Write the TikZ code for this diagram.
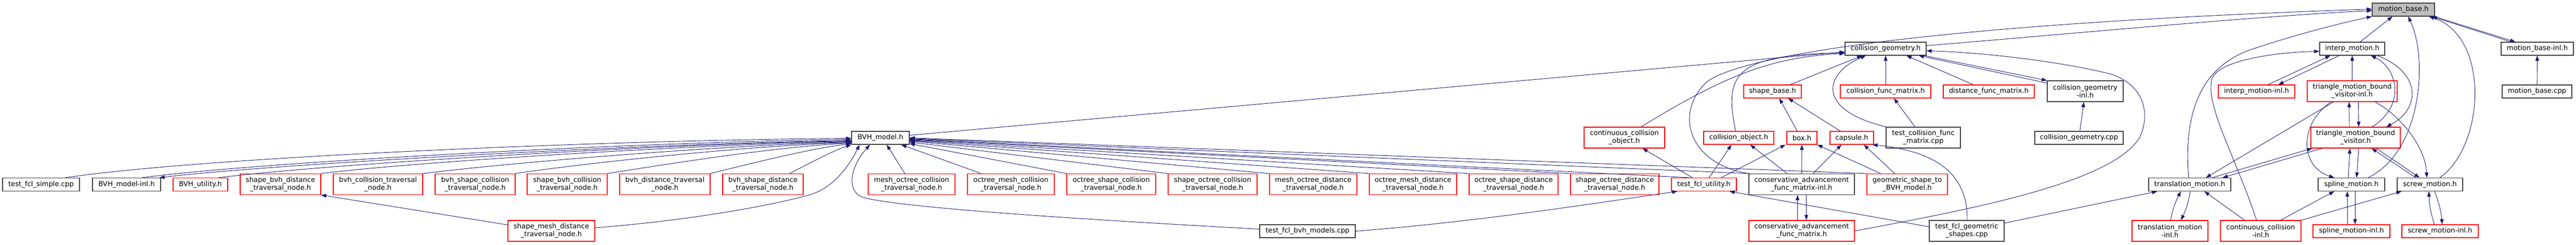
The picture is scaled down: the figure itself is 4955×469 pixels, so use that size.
\documentclass[tikz,border=0pt]{standalone}
\usepackage{fontspec}
\setmainfont{DejaVu Sans}
\usetikzlibrary{arrows.meta}
\definecolor{edgeblue}{HTML}{191970}
\definecolor{boxred}{HTML}{FF0000}
\definecolor{boxgray}{HTML}{BFBFBF}
\definecolor{boxblack}{HTML}{404040}
\begin{document}
\begin{tikzpicture}[x=1pt,y=-1pt,
    every node/.append style={inner sep=0pt},
    file/.style={draw=boxblack, line width=1.2pt, fill=white, align=center,
      font=\fontsize{13.2}{15}\selectfont, minimum height=25pt},
    tall/.style={minimum height=40pt},
    redfile/.style={file, draw=boxred},
    inc/.style={draw=edgeblue, line width=0.9pt, -{Triangle[length=10pt,width=7pt]}}]
  \path[use as bounding box, fill=white] (0,0) rectangle (4955,469);
  % row 0 and 1
  \node[file, fill=boxgray, minimum width=120pt] (mb) at (4623,18.5) {motion\_base.h};
  \node[file, minimum width=156pt] (cg) at (3627,93.5) {collision\_geometry.h};
  \node[file, minimum width=125pt] (im) at (4524.5,93.5) {interp\_motion.h};
  \node[file, minimum width=139pt] (mbi) at (4880.5,93.5) {motion\_base-inl.h};
  % row 2
  \node[redfile, minimum width=111pt] (sb) at (3409.5,175.5) {shape\_base.h};
  \node[redfile, minimum width=174pt] (cfm) at (3627,175.5) {collision\_func\_matrix.h};
  \node[redfile, minimum width=175pt] (dfm) at (3825.5,175.5) {distance\_func\_matrix.h};
  \node[file, tall, minimum width=146pt] (cgi) at (4011,175) {collision\_geometry\\-inl.h};
  \node[redfile, minimum width=147pt] (imi) at (4340.5,175.5) {interp\_motion-inl.h};
  \node[redfile, tall, minimum width=173pt] (tmbvi) at (4524.5,175) {triangle\_motion\_bound\\\_visitor-inl.h};
  \node[file, minimum width=134pt] (mbc) at (4880,175.5) {motion\_base.cpp};
  % row 3
  \node[file, minimum width=111pt] (bvh) at (1693.5,264.5) {BVH\_model.h};
  \node[redfile, tall, minimum width=155pt] (cco) at (3124.5,264) {continuous\_collision\\\_object.h};
  \node[redfile, minimum width=135pt] (co) at (3344.5,264.5) {collision\_object.h};
  \node[redfile, minimum width=58pt] (box) at (3466,264.5) {box.h};
  \node[redfile, minimum width=84pt] (cap) at (3562,264.5) {capsule.h};
  \node[file, tall, minimum width=143pt] (tcfm) at (3699.5,264) {test\_collision\_func\\\_matrix.cpp};
  \node[file, minimum width=170pt] (cgc) at (3999,264.5) {collision\_geometry.cpp};
  \node[redfile, tall, minimum width=172pt] (tmbv) at (4531,264) {triangle\_motion\_bound\\\_visitor.h};
  % row 4
  \node[file, minimum width=148pt] (tfs) at (79,354) {test\_fcl\_simple.cpp};
  \node[file, minimum width=131pt] (bvhi) at (243.5,354) {BVH\_model-inl.h};
  \node[redfile, minimum width=105pt] (bvhu) at (385.5,354) {BVH\_utility.h};
  \node[redfile, tall, minimum width=155pt] (sbdt) at (539.5,353.5) {shape\_bvh\_distance\\\_traversal\_node.h};
  \node[redfile, tall, minimum width=172pt] (bct) at (727,353.5) {bvh\_collision\_traversal\\\_node.h};
  \node[redfile, tall, minimum width=154pt] (bsct) at (914,353.5) {bvh\_shape\_collision\\\_traversal\_node.h};
  \node[redfile, tall, minimum width=154pt] (sbct) at (1091,353.5) {shape\_bvh\_collision\\\_traversal\_node.h};
  \node[redfile, tall, minimum width=174pt] (bdt) at (1279,353.5) {bvh\_distance\_traversal\\\_node.h};
  \node[redfile, tall, minimum width=155pt] (bsdt) at (1467.5,353.5) {bvh\_shape\_distance\\\_traversal\_node.h};
  \node[redfile, tall, minimum width=167pt] (moct) at (1753.5,353.5) {mesh\_octree\_collision\\\_traversal\_node.h};
  \node[redfile, tall, minimum width=167pt] (omct) at (1944.5,353.5) {octree\_mesh\_collision\\\_traversal\_node.h};
  \node[redfile, tall, minimum width=171pt] (osct) at (2137.5,353.5) {octree\_shape\_collision\\\_traversal\_node.h};
  \node[redfile, tall, minimum width=171pt] (soct) at (2332.5,353.5) {shape\_octree\_collision\\\_traversal\_node.h};
  \node[redfile, tall, minimum width=168pt] (modt) at (2526,353.5) {mesh\_octree\_distance\\\_traversal\_node.h};
  \node[redfile, tall, minimum width=168pt] (omdt) at (2718,353.5) {octree\_mesh\_distance\\\_traversal\_node.h};
  \node[redfile, tall, minimum width=171pt] (osdt) at (2911.5,353.5) {octree\_shape\_distance\\\_traversal\_node.h};
  \node[redfile, tall, minimum width=170pt] (sodt) at (3106,353.5) {shape\_octree\_distance\\\_traversal\_node.h};
  \node[redfile, minimum width=125pt] (tfu) at (3277.5,354) {test\_fcl\_utility.h};
  \node[file, tall, minimum width=203pt] (cafi) at (3465.5,353.5) {conservative\_advancement\\\_func\_matrix-inl.h};
  \node[redfile, tall, minimum width=155pt] (gsb) at (3668.5,353.5) {geometric\_shape\_to\\\_BVH\_model.h};
  \node[file, minimum width=158pt] (tm) at (4212,354) {translation\_motion.h};
  \node[file, minimum width=128pt] (sm) at (4523,354) {spline\_motion.h};
  \node[file, minimum width=126pt] (scm) at (4674,354) {screw\_motion.h};
  % row 5
  \node[redfile, tall, minimum width=167pt] (smdt) at (1060.5,443) {shape\_mesh\_distance\\\_traversal\_node.h};
  \node[file, minimum width=184pt] (tfbm) at (2515,443.5) {test\_fcl\_bvh\_models.cpp};
  \node[redfile, tall, minimum width=203pt] (caf) at (3465.5,443) {conservative\_advancement\\\_func\_matrix.h};
  \node[file, tall, minimum width=144pt] (tfgs) at (3783,443) {test\_fcl\_geometric\\\_shapes.cpp};
  \node[redfile, tall, minimum width=146pt] (tmi) at (4174,443) {translation\_motion\\-inl.h};
  \node[redfile, tall, minimum width=155pt] (cci) at (4348.5,443) {continuous\_collision\\-inl.h};
  \node[redfile, minimum width=148pt] (smi) at (4523,443.5) {spline\_motion-inl.h};
  \node[redfile, minimum width=147pt] (scmi) at (4693.5,443.5) {screw\_motion-inl.h};
  % into BVH_model.h, from the left
  \draw[inc] ([xshift=-28pt]tfs.north east) .. controls (400,300) and (1200,268) .. ([yshift=-1pt]bvh.west);
  \draw[inc] ([xshift=-36pt]bvhi.north east) .. controls (500,310) and (1250,272) .. ([yshift=-3pt]bvh.west);
  \draw[inc] ([yshift=-5pt]bvh.west) .. controls (1250,275) and (520,315) .. ([xshift=-3pt]bvhi.north east);
  \draw[inc] ([xshift=-18pt]bvhu.north east) .. controls (620,315) and (1300,275) .. ([yshift=-6pt]bvh.west);
  \draw[inc] (sbdt.north east) .. controls (800,310) and (1350,277) .. ([yshift=-7pt]bvh.west);
  \draw[inc] (bct.north east) .. controls (980,312) and (1400,278) .. ([yshift=-8pt]bvh.west);
  \draw[inc] (bsct.north east) .. controls (1130,312) and (1450,279) .. ([yshift=-9pt]bvh.west);
  \draw[inc] (sbct.north east) .. controls (1300,312) and (1500,281) .. ([yshift=-10pt]bvh.west);
  \draw[inc] (bdt.north east) .. controls (1450,312) and (1560,285) .. ([yshift=-11pt]bvh.west);
  \draw[inc] ([xshift=-27pt]bsdt.north east) .. controls (1560,312) and (1600,290) .. (bvh.south west);
  \draw[inc] ([yshift=6pt]smdt.east) .. controls (1300,425) and (1460,400) .. (1557,374)
    .. controls (1605,360) and (1635,315) .. ([xshift=-40pt]bvh.south);
  \draw[inc] ([yshift=-9pt]smdt.north west) -- (sbdt.south east);
  \draw[inc] ([yshift=4pt]tfbm.west) .. controls (2100,422) and (1750,400) .. (1665,380)
    .. controls (1625,371) and (1635,320) .. ([xshift=-20pt]bvh.south);
  % into BVH_model.h, from the right
  \draw[inc] ([xshift=-13pt]moct.north) -- ([xshift=12pt]bvh.south);
  \draw[inc] ([xshift=27pt]omct.north west) -- ([xshift=40pt]bvh.south);
  \draw[inc] (osct.north west) -- ([yshift=-11pt]bvh.east);
  \draw[inc] (soct.north west) -- ([yshift=-8pt]bvh.east);
  \draw[inc] (modt.north west) -- ([yshift=-6pt]bvh.east);
  \draw[inc] (omdt.north west) -- ([yshift=-5pt]bvh.east);
  \draw[inc] (osdt.north west) -- ([yshift=-4pt]bvh.east);
  \draw[inc] (sodt.north west) -- ([yshift=-3pt]bvh.east);
  \draw[inc] ([xshift=-28pt]tfu.north) -- ([yshift=-2pt]bvh.east);
  \draw[inc] ([xshift=3pt]cafi.north west) -- ([yshift=-1pt]bvh.east);
  \draw[inc] (gsb.north west) -- (bvh.east);
  % into collision_geometry.h
  \draw[inc] ([yshift=5pt]bvh.east) -- ([yshift=-6pt]cg.west);
  \draw[inc] ([xshift=32pt]cco.north) .. controls (3310,150) and (3400,110) .. ([yshift=-9pt]cg.west);
  \draw[inc] ([xshift=-6pt]co.north) .. controls (3315,140) and (3340,105) .. ([yshift=-8pt]cg.west);
  \draw[inc] ([xshift=34pt]sb.north) -- ([xshift=-45pt]cg.south);
  \draw[inc] (tcfm.north west) .. controls (3490,210) and (3510,140) .. ([xshift=-38pt]cg.south);
  \draw[inc] (cfm) -- (cg);
  \draw[inc] ([xshift=-30pt]dfm.north) -- ([xshift=40pt]cg.south);
  \draw[inc] ([yshift=-5pt]cgi.north west) -- ([xshift=-15pt]cg.south east);
  \draw[inc] ([xshift=-5pt]cg.south east) -- (cgi.north west);
  \draw[inc] (caf.east) .. controls (3800,400) and (4060,350) .. (4115,265)
    .. controls (4135,225) and (4130,165) .. (4060,142)
    .. controls (3950,115) and (3800,100) .. ([yshift=-4pt]cg.east);
  \draw[inc] (cgc) -- (cgi);
  % into motion_base.h
  \draw[inc] ([yshift=6pt]cg.east) .. controls (3950,68) and (4350,30) .. ([yshift=-2pt]mb.west);
  \draw[inc] (cafi.north west) .. controls (3250,315) and (3220,220) .. (3280,160)
    .. controls (3320,120) and (3600,50) .. ([yshift=1pt]mb.west);
  \draw[inc] ([xshift=-2pt]tm.north) .. controls (4200,220) and (4230,130) .. (4330,95)
    .. controls (4420,65) and (4500,45) .. (mb.south west);
  \draw[inc] ([xshift=15pt]im.north) -- ([xshift=-21pt]mb.south);
  \draw[inc] ([xshift=32pt]sm.north) .. controls (4660,290) and (4670,110) .. ([xshift=9pt]mb.south);
  \draw[inc] ([xshift=19pt]scm.north) .. controls (4780,280) and (4790,70) .. ([xshift=49pt]mb.south);
  \draw[inc] ([xshift=20pt]mbi.north west) -- ([xshift=-6pt]mb.south east);
  \draw[inc] ([xshift=-2pt]mb.south east) -- ([xshift=28pt]mbi.north west);
  \draw[inc] (mbc) -- (mbi);
  % interp_motion.h and the visitors
  \draw[inc] ([xshift=-8pt]cci.north) .. controls (4300,300) and (4240,200) .. (4255,150)
    .. controls (4270,115) and (4380,100) .. ([yshift=-5pt]im.west);
  \draw[inc] ([xshift=22pt]imi.north) -- ([xshift=-42pt]im.south);
  \draw[inc] ([xshift=-25pt]im.south) -- ([xshift=42pt]imi.north);
  \draw[inc] (tmbvi) -- (im);
  \draw[inc] ([xshift=32pt]tmbv.north) .. controls (4630,200) and (4610,130) .. ([xshift=36pt]im.south);
  \draw[inc] ([xshift=48pt]im.south) .. controls (4660,140) and (4655,210) .. ([xshift=59pt]tmbv.north);
  \draw[inc] ([xshift=-12pt]tmbv.north) -- ([xshift=-6pt]tmbvi.south);
  \draw[inc] ([xshift=12pt]tmbvi.south) -- ([xshift=6pt]tmbv.north);
  \draw[inc] ([xshift=-36pt]tmbvi.south) -- ([xshift=31pt]tm.north);
  \draw[inc] ([xshift=-41pt]tmbvi.south) .. controls (4420,240) and (4425,320) .. ([xshift=-33pt]sm.north);
  \draw[inc] ([xshift=44pt]tmbvi.south) .. controls (4615,220) and (4665,280) .. ([xshift=-6pt]scm.north);
  \draw[inc] ([xshift=43pt]tm.north) -- ([xshift=3pt]tmbv.south west);
  \draw[inc] ([xshift=22pt]tmbv.south west) -- ([xshift=63pt]tm.north);
  \draw[inc] ([xshift=-6pt]sm.north) -- ([xshift=-11pt]tmbv.south);
  \draw[inc] ([xshift=6pt]tmbv.south) -- ([xshift=10pt]sm.north);
  \draw[inc] ([xshift=-27pt]scm.north) -- ([xshift=31pt]tmbv.south);
  \draw[inc] ([xshift=40pt]tmbv.south) -- ([xshift=-20pt]scm.north);
  % motions
  \draw[inc] ([xshift=1pt]tmi.north) to[bend left=8] ([xshift=-17pt]tm.south);
  \draw[inc] ([xshift=1pt]tm.south) to[bend left=8] ([xshift=21pt]tmi.north);
  \draw[inc] ([yshift=15pt]tfgs.east) -- ([xshift=17pt]tm.south west);
  \draw[inc] ([xshift=-31pt]cci.north) -- ([xshift=28pt]tm.south);
  \draw[inc] ([xshift=38pt]cci.north) -- ([xshift=-33pt]sm.south);
  \draw[inc] (cci.north east) -- ([xshift=9pt]scm.south west);
  \draw[inc] ([xshift=-8pt]smi.north) -- ([xshift=-8pt]sm.south);
  \draw[inc] ([xshift=7pt]sm.south) -- ([xshift=7pt]smi.north);
  \draw[inc] ([xshift=-11pt]scmi.north) to[bend left=8] ([xshift=-2pt]scm.south);
  \draw[inc] ([xshift=9pt]scm.south) to[bend left=8] ([xshift=4pt]scmi.north);
  % shapes and tests
  \draw[inc] ([xshift=-9pt]box.north) -- ([xshift=13pt]sb.south);
  \draw[inc] ([xshift=-22pt]cap.north) -- ([xshift=30pt]sb.south);
  \draw[inc] ([xshift=-16pt]tcfm.north) -- ([xshift=16pt]cfm.south);
  \draw[inc] ([xshift=-22pt]tfu.north) -- ([xshift=35pt]cco.south);
  \draw[inc] ([xshift=10pt]tfu.north) -- ([xshift=-14pt]co.south);
  \draw[inc] ([xshift=33pt]tfu.north) -- ([xshift=-2pt]box.south west);
  \draw[inc] (tfbm.east) .. controls (2850,425) and (3100,385) .. ([xshift=12pt]tfu.south west);
  \draw[inc] ([yshift=8pt]tfgs.west) -- ([xshift=-14pt]tfu.south east);
  \draw[inc] ([xshift=-28pt]cafi.north) -- ([xshift=22pt]co.south);
  \draw[inc] (cafi) -- (box);
  \draw[inc] ([xshift=22pt]cafi.north) -- ([xshift=-20pt]cap.south);
  \draw[inc] ([xshift=27pt]gsb.north west) -- (box.south east);
  \draw[inc] ([xshift=54pt]gsb.north west) -- ([xshift=23pt]cap.south);
  \draw[inc] ([xshift=-8pt]caf.north) -- ([xshift=-8pt]cafi.south);
  \draw[inc] ([xshift=9pt]cafi.south) -- ([xshift=9pt]caf.north);
  \draw[inc] ([xshift=1pt]tfgs.north) .. controls (3785,330) and (3720,290) .. ([xshift=-3pt]cap.south east);
\end{tikzpicture}
\end{document}
